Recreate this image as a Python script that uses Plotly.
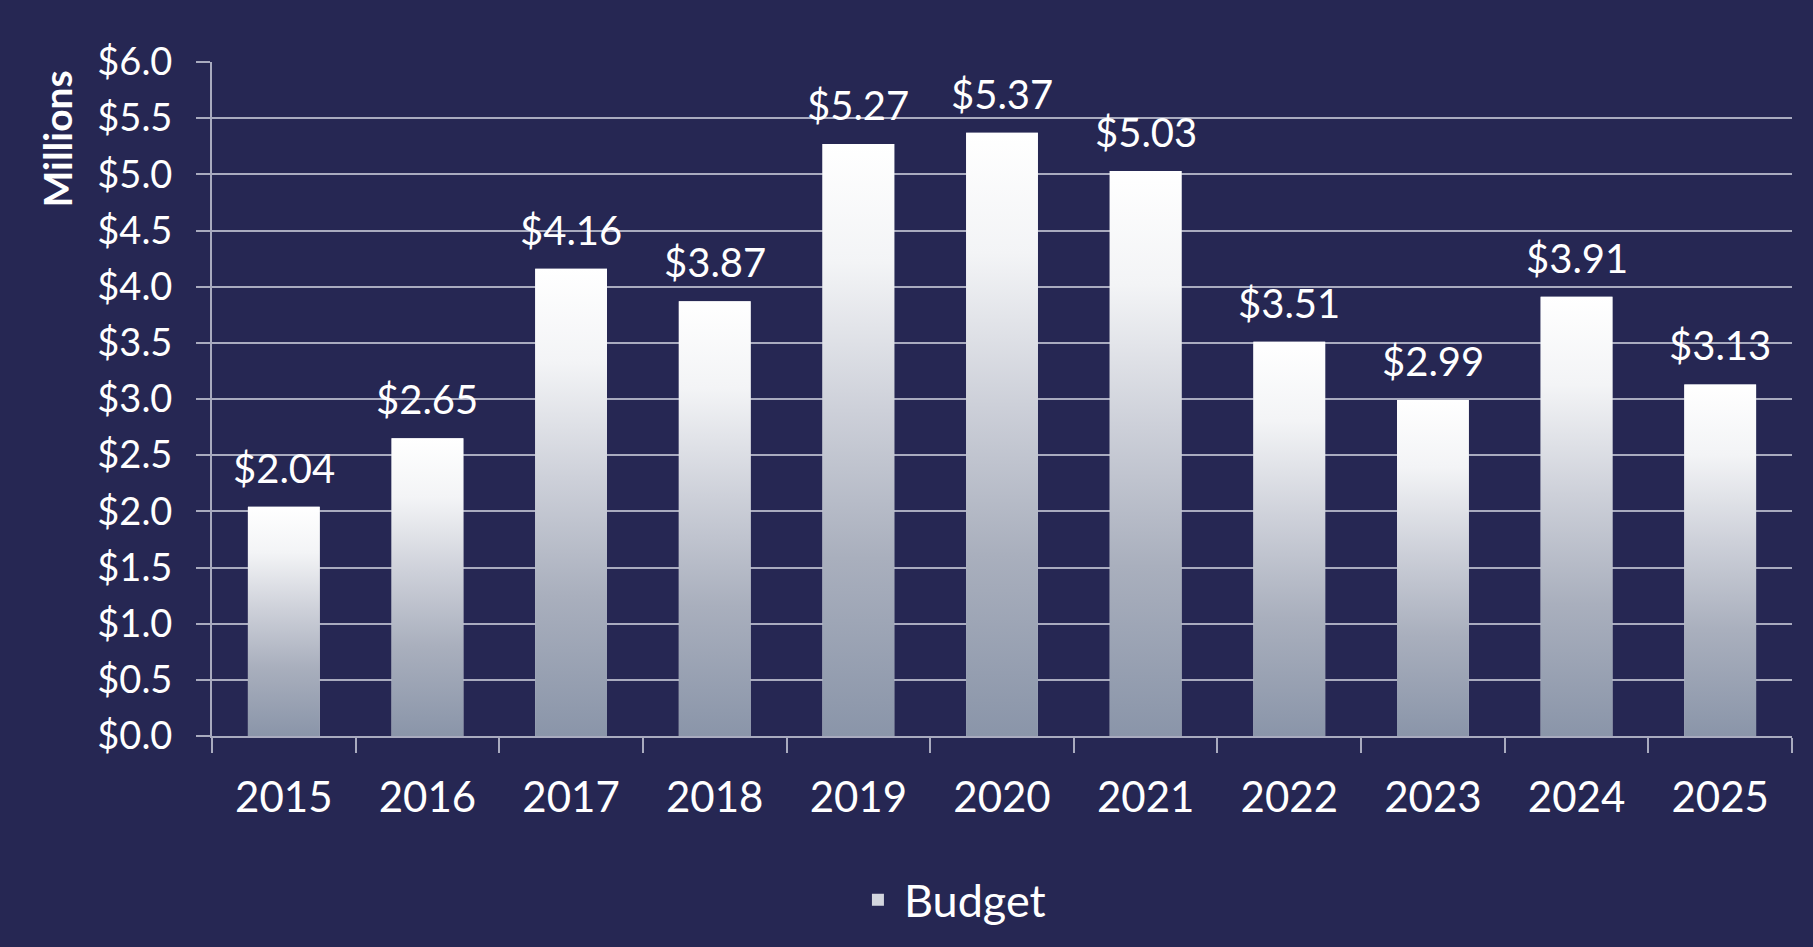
import plotly.graph_objects as go

# ---- data ----
years = ["2015", "2016", "2017", "2018", "2019", "2020", "2021", "2022", "2023", "2024", "2025"]
budget = [2.04, 2.65, 4.16, 3.87, 5.27, 5.37, 5.03, 3.51, 2.99, 3.91, 3.13]
bar_labels = ["$2.04", "$2.65", "$4.16", "$3.87", "$5.27", "$5.37", "$5.03", "$3.51", "$2.99", "$3.91", "$3.13"]
y_tickvals = [0.0, 0.5, 1.0, 1.5, 2.0, 2.5, 3.0, 3.5, 4.0, 4.5, 5.0, 5.5, 6.0]
y_ticktext = ["$0.0", "$0.5", "$1.0", "$1.5", "$2.0", "$2.5", "$3.0", "$3.5", "$4.0", "$4.5", "$5.0", "$5.5", "$6.0"]

# ---- style ----
BG = "#262753"
GRID = "#a9abbf"
FONT = "Lato"
BAR_WIDTH = 0.5
GRAD = [[0.0, "#8a95a9"], [0.3, "#a9afbd"], [0.55, "#cdd0d9"], [0.8, "#f3f4f6"], [1.0, "#ffffff"]]

pos = list(range(len(years)))
bounds = [p - 0.5 for p in pos] + [pos[-1] + 0.5]
hw = BAR_WIDTH / 2

fig = go.Figure()

# real bar trace (data, legend)
fig.add_trace(go.Bar(
    x=pos, y=budget, width=BAR_WIDTH, name="Budget",
    marker=dict(color="#d3d6de", line=dict(width=0)),
    hovertext=years, hoverinfo="text+y",
))

# gradient fills drawn over each bar
for p, v in zip(pos, budget):
    fig.add_trace(go.Scatter(
        x=[p - hw, p + hw], y=[v, v], mode="none", fill="tozeroy",
        fillgradient=dict(type="vertical", colorscale=GRAD, start=0, stop=v),
        showlegend=False, hoverinfo="skip",
    ))

for p, v, t in zip(pos, budget, bar_labels):
    fig.add_annotation(x=p, y=v, text=t, showarrow=False, yanchor="bottom", yshift=13,
                       font=dict(family=FONT, size=40, color="white"))

fig.add_annotation(xref="paper", yref="paper", x=-0.0987, y=0.885, text="<b>Millions</b>",
                   textangle=-90, showarrow=False, xanchor="center", yanchor="middle",
                   font=dict(family=FONT, size=39, color="white"))

fig.update_layout(
    width=1813, height=947,
    paper_bgcolor=BG, plot_bgcolor=BG,
    margin=dict(l=212, r=21, t=62, b=210),
    font=dict(family=FONT, color="white"),
    showlegend=True,
    legend=dict(orientation="h", x=0.468, xanchor="center", y=-0.2415, yanchor="middle",
                itemwidth=42, font=dict(family=FONT, size=45, color="white"),
                bgcolor="rgba(0,0,0,0)"),
    xaxis=dict(range=[-0.5, len(years) - 0.5], tickmode="array", tickvals=pos, ticktext=years,
               ticks="", showgrid=False, zeroline=False, showline=True, linecolor=GRID, linewidth=2,
               tickfont=dict(family=FONT, size=42, color="white"), ticklabelstandoff=24,
               minor=dict(tickmode="array", tickvals=bounds, ticks="outside", ticklen=15,
                          tickcolor=GRID, tickwidth=2, showgrid=False)),
    xaxis2=dict(overlaying="x", anchor="y", range=[-0.5, len(years) - 0.5], tickmode="array",
                tickvals=bounds, ticks="inside", ticklen=16, tickcolor=GRID, tickwidth=2,
                showticklabels=False, showgrid=False, zeroline=False, showline=False),
    yaxis=dict(range=[0, 6], tickmode="array", tickvals=y_tickvals, ticktext=y_ticktext,
               ticks="outside", ticklen=14, tickcolor=GRID, tickwidth=2,
               showgrid=True, gridcolor=GRID, gridwidth=2, zeroline=False,
               showline=True, linecolor=GRID, linewidth=2,
               tickfont=dict(family=FONT, size=38, color="white"), ticklabelstandoff=16),
    bargap=0.5,
)

fig.write_html("out.html", config={"displayModeBar": False},
               post_script="document.body.style.margin='0';")
